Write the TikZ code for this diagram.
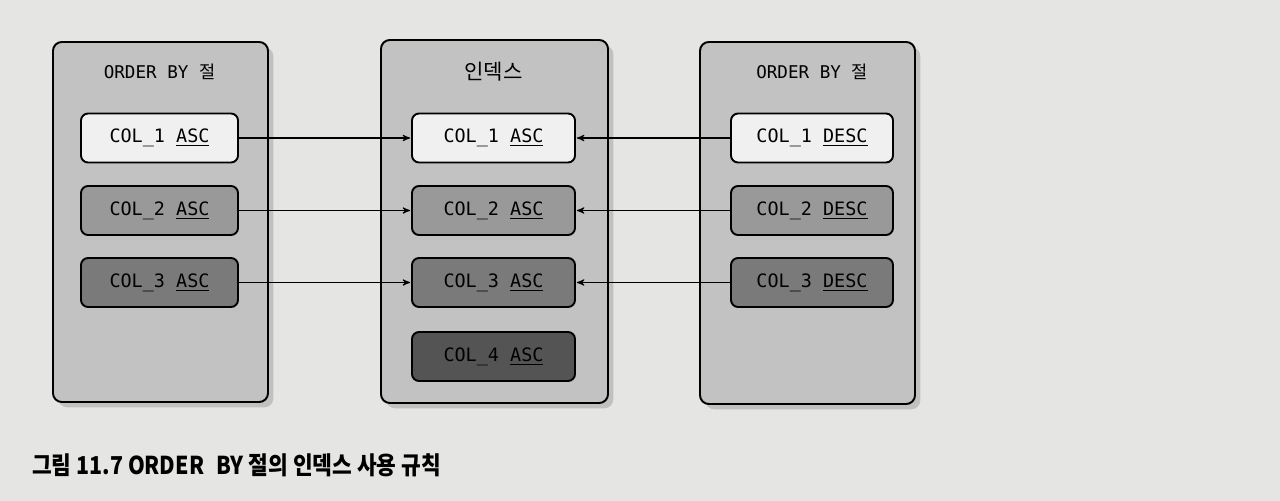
\documentclass[tikz,border=0pt]{standalone}
\usepackage{fontspec}
\usepackage{tikz}
\usetikzlibrary{arrows}
\usetikzlibrary{shapes,shadows,calc,positioning}
\newfontfamily\kr{Noto Sans CJK KR}
\newfontfamily\krcap[FakeStretch=0.87]{Noto Sans CJK KR}
\newfontfamily\mono{DejaVu Sans Mono}
\definecolor{paper}{rgb}{0.90,0.90,0.89}
\definecolor{panelgray}{rgb}{0.76,0.76,0.76}
\definecolor{first}{rgb}{0.94,0.94,0.94}
\definecolor{second}{rgb}{0.60,0.60,0.60}
\definecolor{third}{rgb}{0.48,0.48,0.48}
\definecolor{fourth}{rgb}{0.33,0.33,0.33}

\begin{document}
\begin{tikzpicture}[>=stealth', on grid,
	panel/.style={draw, line width=1.1pt, rounded corners=5pt, fill=panelgray, drop shadow={opacity=0.35, shadow xshift=3pt, shadow yshift=-3pt}},
	col/.style={draw, line width=1.1pt, rounded corners=4pt, minimum height=0.98cm, font=\mono\fontsize{10.5}{12}\selectfont},
	title/.style={font=\fontsize{10}{12}\selectfont},
	link/.style={->, line width=0.6pt, shorten >=0.5pt}]
			\fill[paper] (0,0) rectangle (25.6,-10.02);
			\useasboundingbox (0,0) rectangle (25.6,-10.02);
			
			\node[panel, minimum width=4.3cm, minimum height=7.2cm] (PL) at (3.21,-4.44) {};
			\node[panel, minimum width=4.54cm, minimum height=7.26cm] (PM) at (9.89,-4.43) {};
			\node[panel, minimum width=4.3cm, minimum height=7.24cm] (PR) at (16.15,-4.46) {};
			
			\node[col, fill=first, minimum width=3.26cm] (M1) at (9.87,-2.76) {COL\_1 \underline{ASC}};
			\node[col, fill=second, minimum width=3.26cm] (M2) [below = 1.45 cm of M1] {COL\_2 \underline{ASC}};
			\node[col, fill=third, minimum width=3.26cm] (M3) [below = 1.44 cm of M2] {COL\_3 \underline{ASC}};
			\node[col, fill=fourth, minimum width=3.26cm] (M4) [below = 1.48 cm of M3] {COL\_4 \underline{ASC}};
			\node[col, fill=first, minimum width=3.14cm] (L1) [left = 6.68 cm of M1] {COL\_1 \underline{ASC}};
			\node[col, fill=second, minimum width=3.14cm] (L2) [left = 6.68 cm of M2] {COL\_2 \underline{ASC}};
			\node[col, fill=third, minimum width=3.14cm] (L3) [left = 6.68 cm of M3] {COL\_3 \underline{ASC}};
			\node[col, fill=first, minimum width=3.24cm] (R1) [right = 6.37 cm of M1] {COL\_1 \underline{DESC}};
			\node[col, fill=second, minimum width=3.24cm] (R2) [right = 6.37 cm of M2] {COL\_2 \underline{DESC}};
			\node[col, fill=third, minimum width=3.24cm] (R3) [right = 6.37 cm of M3] {COL\_3 \underline{DESC}};
			
			\node[title] (TL) [above = 1.33 cm of L1] {\mono ORDER BY {\kr 절}};
			\node[title] (TM) [above = 1.32 cm of M1] {\kr\fontsize{12}{14}\selectfont 인덱스};
			\node[title] (TR) [above = 1.32 cm of R1] {\mono ORDER BY {\kr 절}};
			
			\node[anchor=west, font=\krcap\bfseries\fontsize{14}{16}\selectfont] (caption) at (0.52,-9.3) {그림 11.7 ORDER\enspace BY 절의 인덱스 사용 규칙};
			
			\path (L1) edge [link] (M1);
			\path (L2) edge [link] (M2);
			\path (L3) edge [link] (M3);
			\path (R1) edge [link] (M1);
			\path (R2) edge [link] (M2);
			\path (R3) edge [link] (M3);
\end{tikzpicture}
\end{document}
